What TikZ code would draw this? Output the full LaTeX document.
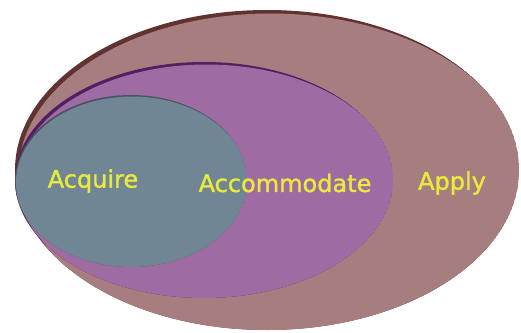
\documentclass[tikz,border=0pt]{standalone}
\usepackage{fontspec}
\setmainfont{DejaVu Sans}
\newfontfamily\labelfont[FakeBold=1.3]{DejaVu Sans}
\usetikzlibrary{
    positioning,
    shapes.geometric
}
\definecolor{ApplyBrown}{RGB}{166,126,128}
\definecolor{ApplyRim}{RGB}{96,50,48}
\definecolor{AccomPurple}{RGB}{158,108,162}
\definecolor{AccomRim}{RGB}{84,30,100}
\definecolor{AcquireGrey}{RGB}{113,134,148}
\definecolor{AcquireRim}{RGB}{72,82,98}
\definecolor{LabelYellow}{RGB}{232,234,62}

\begin{document}
\begin{tikzpicture}[
    x=0.03cm,
    y=-0.03cm,
    label/.style={
        text=LabelYellow,
        font=\labelfont\fontsize{20.5}{24}\selectfont,
        inner sep=0pt
    }
]

\useasboundingbox (0,0) rectangle (521,333);

% outer ellipse, dark rim on the upper left
\begin{scope}
    \clip (267,170) ellipse[x radius=252, y radius=160];
    \fill[ApplyRim] (267,170) ellipse[x radius=252, y radius=160];
    \fill[ApplyBrown] (270.5,173.5) ellipse[x radius=252, y radius=160];
\end{scope}

% middle ellipse
\begin{scope}
    \clip (204,180) ellipse[x radius=189, y radius=118];
    \fill[AccomRim] (204,180) ellipse[x radius=189, y radius=118];
    \fill[AccomPurple] (206.5,182.5) ellipse[x radius=189, y radius=118];
\end{scope}

% inner ellipse
\begin{scope}
    \clip (131,181) ellipse[x radius=116, y radius=86];
    \fill[AcquireRim] (131,181) ellipse[x radius=116, y radius=86];
    \fill[AcquireGrey] (132,182.5) ellipse[x radius=116, y radius=86];
\end{scope}

% labels
\node[label] (acquire) at (93,181) {Acquire};
\node[label] (accommodate) at (285,183) {Accommodate};
\node[label] (apply) at (452,183) {Apply};

\end{tikzpicture}
\end{document}
